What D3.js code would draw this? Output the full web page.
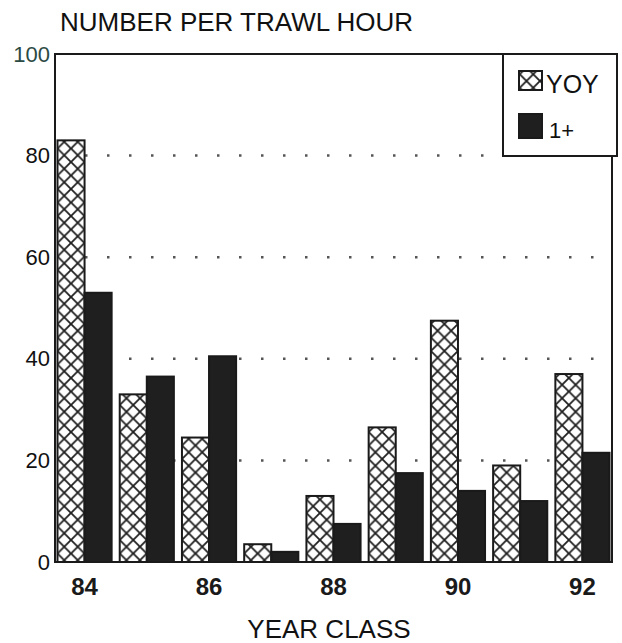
<!DOCTYPE html>
<html>

<head>
  <title>Number per trawl hour</title>
  <script src="https://cdn.jsdelivr.net/npm/d3@7/dist/d3.min.js"></script>
  <style>
    body { margin: 0; background: #fff; }
    text { font-family: "Liberation Sans", Arial, sans-serif; }
  </style>
</head>

<body>
  <script>

    // data
    const years = [84, 85, 86, 87, 88, 89, 90, 91, 92];
    const yoy = [83, 33, 24.5, 3.5, 13, 26.5, 47.5, 19, 37];
    const onePlus = [53, 36.5, 40.5, 2, 7.5, 17.5, 14, 12, 21.5];
    const series = ["YOY", "1+"];
    const yTicks = [0, 20, 40, 60, 80, 100];
    const xLabels = [84, 86, 88, 90, 92];

    const width = 622;
    const height = 643;
    const plotLeft = 55, plotRight = 612, plotTop = 54, plotBottom = 562;

    const svg = d3.select("body").append("svg")
      .attr("width", width)
      .attr("height", height);

    // crosshatch pattern for YOY
    const defs = svg.append("defs");
    const pat = defs.append("pattern")
      .attr("id", "hatch")
      .attr("patternUnits", "userSpaceOnUse")
      .attr("width", 13.5)
      .attr("height", 13.5);
    pat.append("rect").attr("width", 13.5).attr("height", 13.5).attr("fill", "#fff");
    pat.append("path")
      .attr("d", "M0,0L13.5,13.5M13.5,0L0,13.5")
      .attr("stroke", "#1e1e1e")
      .attr("stroke-width", 1.8);

    const x = d3.scaleBand()
      .domain(years)
      .range([plotLeft, plotRight])
      .paddingInner(0.13)
      .paddingOuter(0.04);

    const xSub = d3.scaleBand()
      .domain(series)
      .range([0, x.bandwidth()]);

    const y = d3.scaleLinear()
      .domain([0, 100])
      .range([plotBottom, plotTop]);

    // dotted gridlines
    svg.append("g")
      .selectAll("line")
      .data(yTicks.filter(d => d > 0 && d < 100))
      .enter()
      .append("line")
      .attr("x1", plotLeft + 30)
      .attr("x2", plotRight - 4)
      .attr("y1", d => y(d))
      .attr("y2", d => y(d))
      .style("stroke", "#555")
      .style("stroke-width", 2.5)
      .style("stroke-dasharray", "2.5 19.5");

    // bars
    const rows = years.map((yr, i) => ({ year: yr, values: [yoy[i], onePlus[i]] }));

    const groups = svg.append("g")
      .selectAll("g")
      .data(rows)
      .enter()
      .append("g")
      .attr("transform", d => `translate(${x(d.year)},0)`);

    groups.selectAll("rect")
      .data(d => d.values.map((v, j) => ({ key: series[j], value: v })))
      .enter()
      .append("rect")
      .attr("x", d => xSub(d.key))
      .attr("y", d => y(d.value))
      .attr("width", xSub.bandwidth())
      .attr("height", d => y(0) - y(d.value))
      .attr("fill", d => d.key === "YOY" ? "url(#hatch)" : "#1f1f1f")
      .attr("stroke", "#1a1a1a")
      .attr("stroke-width", 2);

    // frame
    svg.append("rect")
      .attr("x", plotLeft)
      .attr("y", plotTop)
      .attr("width", plotRight - plotLeft)
      .attr("height", plotBottom - plotTop)
      .attr("fill", "none")
      .attr("stroke", "#1a1a1a")
      .attr("stroke-width", 2);

    // y axis labels
    const yAxis = svg.append("g")
      .attr("transform", `translate(${plotLeft - 5},0)`)
      .call(d3.axisLeft(y).tickValues(yTicks).tickSize(0).tickPadding(0));
    yAxis.select(".domain").remove();
    yAxis.selectAll("text")
      .style("font-size", "22px")
      .style("fill", d => d === 100 ? "#2c4a44" : "#111");

    // x axis labels
    const xAxis = svg.append("g")
      .attr("transform", `translate(0,${plotBottom + 16})`)
      .call(d3.axisBottom(x).tickValues(xLabels).tickSize(0).tickPadding(0));
    xAxis.select(".domain").remove();
    xAxis.selectAll("text")
      .style("font-size", "24px")
      .style("font-weight", "bold")
      .style("fill", "#1a1a1a");

    // titles
    svg.append("text")
      .attr("x", 60)
      .attr("y", 31)
      .style("font-size", "26px")
      .style("fill", "#111")
      .text("NUMBER PER TRAWL HOUR");

    svg.append("text")
      .attr("x", 329)
      .attr("y", 638)
      .style("text-anchor", "middle")
      .style("font-size", "26px")
      .style("fill", "#111")
      .text("YEAR CLASS");

    // legend
    const legend = svg.append("g");
    legend.append("rect")
      .attr("x", 503)
      .attr("y", plotTop)
      .attr("width", 114)
      .attr("height", 102)
      .attr("fill", "#fff")
      .attr("stroke", "#1a1a1a")
      .attr("stroke-width", 2);

    legend.selectAll("rect.sw")
      .data(series)
      .enter()
      .append("rect")
      .attr("class", "sw")
      .attr("x", 519)
      .attr("y", (d, i) => i ? 114 : 71)
      .attr("width", 23)
      .attr("height", (d, i) => i ? 24 : 19)
      .attr("fill", d => d === "YOY" ? "url(#hatch)" : "#1f1f1f")
      .attr("stroke", "#1a1a1a")
      .attr("stroke-width", 2);

    legend.selectAll("text")
      .data(series)
      .enter()
      .append("text")
      .attr("x", (d, i) => i ? 549 : 546)
      .attr("y", (d, i) => i ? 138 : 93)
      .style("font-size", (d, i) => i ? "22px" : "25px")
      .style("fill", "#111")
      .text(d => d);

  </script>
</body>

</html>
